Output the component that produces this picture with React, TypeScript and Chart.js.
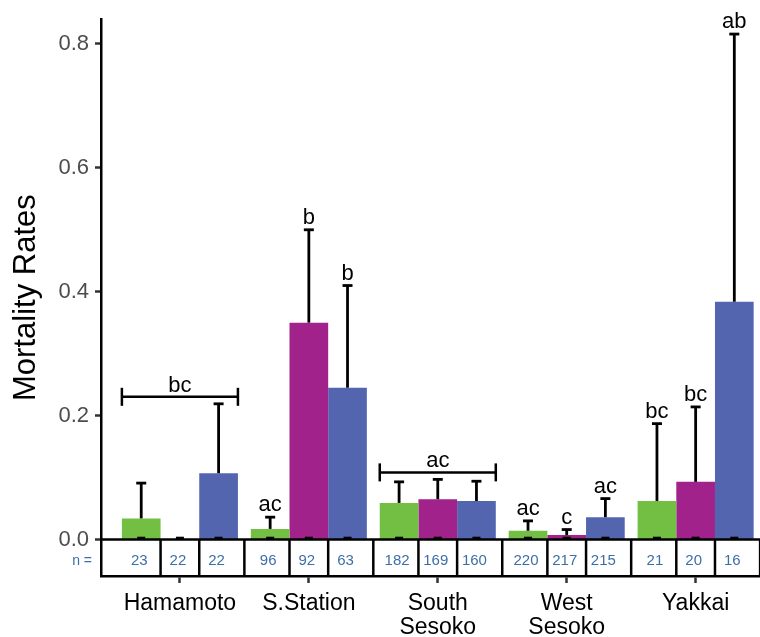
import React, { useEffect, useRef } from 'react';
import { Chart, registerables } from 'chart.js';

Chart.register(...registerables);

// ---------- data ----------
const categories: string[][] = [['Hamamoto'], ['S.Station'], ['South', 'Sesoko'], ['West', 'Sesoko'], ['Yakkai']];
const seriesNames = ['Series 1', 'Series 2', 'Series 3'];
const greenValues = [0.034, 0.017, 0.059, 0.014, 0.062];
const greenErrors = [0.057, 0.019, 0.034, 0.016, 0.125];
const magentaValues = [0.0, 0.35, 0.065, 0.007, 0.093];
const magentaErrors = [0.0, 0.15, 0.032, 0.009, 0.121];
const blueValues = [0.107, 0.245, 0.062, 0.036, 0.384];
const blueErrors = [0.112, 0.165, 0.032, 0.03, 0.432];
const greenN = [23, 96, 182, 220, 21];
const magentaN = [22, 92, 169, 217, 20];
const blueN = [22, 63, 160, 215, 16];
const greenLetters = ['', 'ac', '', 'ac', 'bc'];
const magentaLetters = ['', 'b', '', 'c', 'bc'];
const blueLetters = ['', 'b', '', 'ac', 'ab'];
const groupLetters = ['bc', '', 'ac', '', ''];
const yTicks = [0, 0.2, 0.4, 0.6, 0.8];
const yTitle = 'Mortality Rates';
const nLabel = 'n =';

const FONT = '"Liberation Sans", Arial, Helvetica, sans-serif';
const colors = ['#72bf44', '#a0228a', '#5465b0'];

const values = [greenValues, magentaValues, blueValues];
const errors = [greenErrors, magentaErrors, blueErrors];
const counts = [greenN, magentaN, blueN];
const letters = [greenLetters, magentaLetters, blueLetters];

const annotPlugin = {
  id: 'annot',
  afterDatasetsDraw(chart: any) {
    const { ctx, chartArea: ca, scales } = chart;
    const x = scales.x;
    const y = scales.y;
    const y0 = y.getPixelForValue(0);
    const metas = [0, 1, 2].map((d) => chart.getDatasetMeta(d));
    ctx.save();
    ctx.strokeStyle = '#000';
    ctx.lineWidth = 2.5;
    ctx.lineCap = 'butt';
    const line = (x1: number, y1: number, x2: number, y2: number, w = 2.5) => {
      ctx.lineWidth = w;
      ctx.beginPath();
      ctx.moveTo(x1, y1);
      ctx.lineTo(x2, y2);
      ctx.stroke();
    };

    // error bars
    for (let d = 0; d < 3; d++) {
      for (let i = 0; i < categories.length; i++) {
        const bar = metas[d].data[i];
        const v = values[d][i];
        const e = errors[d][i];
        const yv = y.getPixelForValue(v);
        const yt = y.getPixelForValue(v + e);
        if (e > 0) {
          line(bar.x, yv, bar.x, yt, 2.8);
          line(bar.x - 5, yt, bar.x + 5, yt, 2.8);
        }
        line(bar.x - 4, y0 - 1.5, bar.x + 4, y0 - 1.5);
      }
    }

    // zero line
    line(ca.left, y0, ca.right, y0);

    // n table separators
    for (let i = 0; i < categories.length; i++) {
      const g = metas[0].data[i];
      const m = metas[1].data[i];
      const s1 = g.x + g.width / 2;
      const s2 = m.x + m.width / 2;
      const s3 = x.getPixelForValue(i + 1.5);
      [s1, s2, s3].forEach((sx) => line(sx, y0, sx, ca.bottom));
    }

    // n values
    ctx.fillStyle = '#3d6fa6';
    ctx.font = `15px ${FONT}`;
    ctx.textAlign = 'center';
    ctx.textBaseline = 'middle';
    const ny = (y0 + ca.bottom) / 2 + 3;
    for (let d = 0; d < 3; d++) {
      for (let i = 0; i < categories.length; i++) {
        ctx.fillText(String(counts[d][i]), metas[d].data[i].x - 2, ny);
      }
    }
    ctx.font = `14px ${FONT}`;
    ctx.textAlign = 'right';
    ctx.fillText(nLabel, ca.left - 9, ny);

    // letters
    ctx.fillStyle = '#000';
    ctx.font = `22px ${FONT}`;
    ctx.textAlign = 'center';
    ctx.textBaseline = 'alphabetic';
    for (let d = 0; d < 3; d++) {
      for (let i = 0; i < categories.length; i++) {
        const t = letters[d][i];
        if (!t) continue;
        const yt = y.getPixelForValue(values[d][i] + errors[d][i]);
        ctx.fillText(t, metas[d].data[i].x, yt - 6);
      }
    }

    // group brackets
    for (let i = 0; i < categories.length; i++) {
      const t = groupLetters[i];
      if (!t) continue;
      const g = metas[0].data[i];
      const b = metas[2].data[i];
      const xl = g.x - g.width / 2;
      const xr = b.x + b.width / 2;
      let top = Infinity;
      for (let d = 0; d < 3; d++) top = Math.min(top, y.getPixelForValue(values[d][i] + errors[d][i]));
      const yb = top - 7;
      line(xl, yb, xr, yb);
      line(xl, yb - 9, xl, yb + 9);
      line(xr, yb - 9, xr, yb + 9);
      ctx.fillText(t, (xl + xr) / 2, yb - 5);
    }
    ctx.restore();
  },
};

export default function App() {
  const ref = useRef<HTMLCanvasElement | null>(null);
  useEffect(() => {
    if (!ref.current) return;
    const chart = new Chart(ref.current, {
      type: 'bar',
      data: {
        datasets: values.map((vals, d) => ({
          label: seriesNames[d],
          data: vals.map((v, i) => ({ x: i + 1, y: v })),
          backgroundColor: colors[d],
          borderWidth: 0,
          categoryPercentage: 0.9,
          barPercentage: 1.0,
        })),
      },
      options: {
        responsive: false,
        animation: false,
        layout: { padding: { left: 0, right: 7, top: 18, bottom: 0 } },
        plugins: { legend: { display: false }, tooltip: { enabled: false } },
        scales: {
          x: {
            type: 'linear',
            offset: false,
            min: 0.388,
            max: 5.6,
            afterBuildTicks: (s: any) => {
              s.ticks = categories.map((_, i) => ({ value: i + 1 }));
            },
            afterFit: (s: any) => {
              s.height = 61;
            },
            ticks: {
              callback: (v: any) => categories[Math.round(Number(v)) - 1],
              font: { family: FONT, size: 23, lineHeight: 1.02 },
              color: '#000',
              padding: 9,
              maxRotation: 0,
              autoSkip: false,
            },
            grid: { offset: false, drawOnChartArea: false, drawTicks: true, tickLength: 7, tickColor: '#333', tickWidth: 2.5 },
            border: { display: true, color: '#000', width: 2.5 },
          },
          y: {
            type: 'linear',
            min: -0.059,
            max: 0.84,
            afterBuildTicks: (s: any) => {
              s.ticks = yTicks.map((v) => ({ value: v }));
            },
            afterFit: (s: any) => {
              s.width = 101;
            },
            ticks: {
              callback: (v: any) => Number(v).toFixed(1),
              font: { family: FONT, size: 22 },
              color: '#4d4d4d',
              padding: 6,
            },
            grid: { drawOnChartArea: false, drawTicks: true, tickLength: 6, tickColor: '#333', tickWidth: 2.5 },
            border: { display: true, color: '#000', width: 2.5 },
            title: {
              display: true,
              text: yTitle,
              color: '#000',
              font: { family: FONT, size: 31, lineHeight: 1.0 },
              padding: { top: 11, bottom: 0 },
            },
          },
        },
      },
      plugins: [annotPlugin],
    } as any);
    return () => chart.destroy();
  }, []);
  return (
    <div style={{ position: 'fixed', left: 0, top: 0, width: 760, height: 637, overflow: 'hidden', background: '#fff' }}>
      <canvas ref={ref} width={780} height={637} style={{ display: 'block' }} />
    </div>
  );
}
